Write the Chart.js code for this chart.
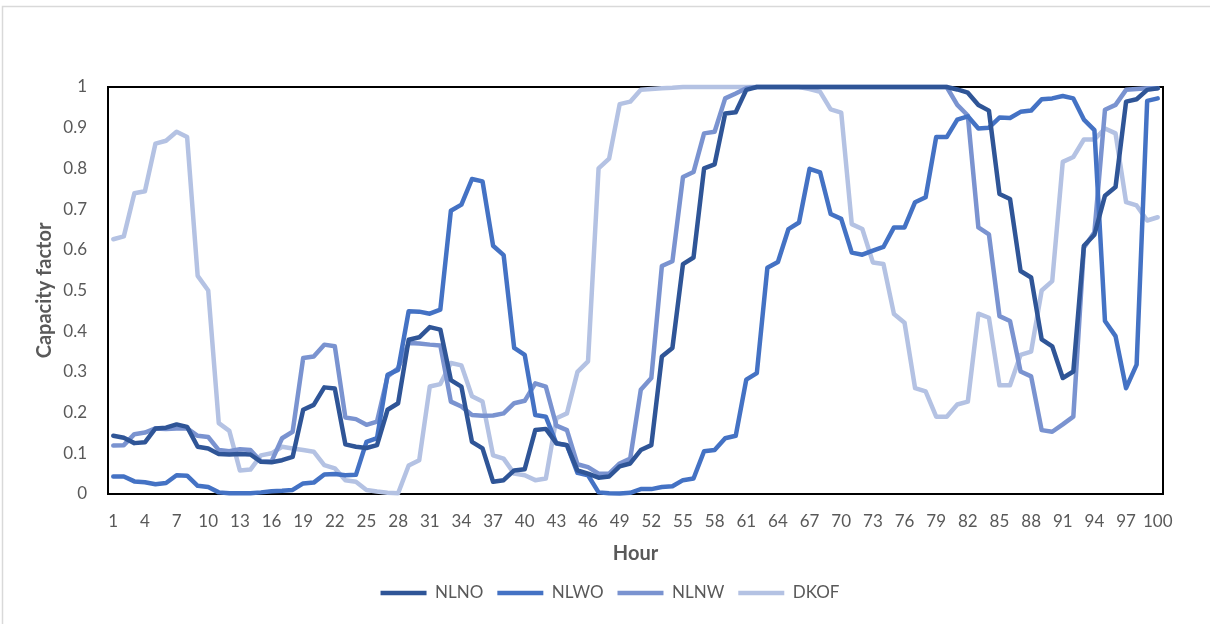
<!DOCTYPE html>
<html>
<head>
<meta charset="utf-8">
<script src="https://cdn.jsdelivr.net/npm/chart.js@4/dist/chart.umd.min.js"></script>
<style>
  html, body { margin: 0; padding: 0; background: #ffffff; }
  #wrap { position: relative; width: 1210px; height: 624px; }
</style>
</head>
<body>
<div id="wrap"><canvas id="c" width="1210" height="624"></canvas></div>
<script>
const hours = Array.from({length: 100}, (_, i) => String(i + 1));

const NLNO = [
  0.143, 0.138, 0.125, 0.127, 0.161, 0.163, 0.171, 0.165, 0.116, 0.112,
  0.098, 0.097, 0.098, 0.097, 0.079, 0.078, 0.083, 0.091, 0.207, 0.219,
  0.262, 0.259, 0.122, 0.116, 0.113, 0.120, 0.207, 0.223, 0.379, 0.385,
  0.410, 0.404, 0.280, 0.264, 0.128, 0.112, 0.030, 0.034, 0.058, 0.061,
  0.157, 0.160, 0.125, 0.120, 0.058, 0.050, 0.040, 0.043, 0.068, 0.075,
  0.108, 0.120, 0.338, 0.359, 0.565, 0.581, 0.800, 0.810, 0.935, 0.938,
  0.993, 1.000, 1.000, 1.000, 1.000, 1.000, 1.000, 1.000, 1.000, 1.000,
  1.000, 1.000, 1.000, 1.000, 1.000, 1.000, 1.000, 1.000, 1.000, 1.000,
  0.994, 0.986, 0.956, 0.942, 0.737, 0.725, 0.548, 0.532, 0.380, 0.363,
  0.285, 0.301, 0.610, 0.637, 0.733, 0.754, 0.964, 0.970, 0.993, 0.997
];

const NLWO = [
  0.043, 0.043, 0.031, 0.029, 0.024, 0.027, 0.046, 0.045, 0.020, 0.017,
  0.004, 0.002, 0.002, 0.002, 0.004, 0.007, 0.008, 0.010, 0.026, 0.028,
  0.048, 0.049, 0.046, 0.047, 0.128, 0.137, 0.293, 0.305, 0.449, 0.448,
  0.443, 0.453, 0.696, 0.711, 0.774, 0.768, 0.610, 0.587, 0.359, 0.342,
  0.194, 0.190, 0.124, 0.120, 0.052, 0.046, 0.004, 0.002, 0.001, 0.003,
  0.012, 0.012, 0.017, 0.019, 0.034, 0.038, 0.105, 0.108, 0.137, 0.143,
  0.281, 0.297, 0.556, 0.570, 0.651, 0.667, 0.799, 0.790, 0.688, 0.676,
  0.593, 0.588, 0.598, 0.607, 0.655, 0.655, 0.717, 0.729, 0.877, 0.877,
  0.920, 0.928, 0.898, 0.900, 0.925, 0.924, 0.939, 0.942, 0.970, 0.972,
  0.978, 0.972, 0.920, 0.894, 0.425, 0.388, 0.260, 0.318, 0.966, 0.972
];

const NLNW = [
  0.119, 0.120, 0.147, 0.151, 0.161, 0.160, 0.161, 0.161, 0.143, 0.140,
  0.108, 0.105, 0.110, 0.108, 0.080, 0.080, 0.137, 0.153, 0.334, 0.338,
  0.367, 0.363, 0.188, 0.184, 0.170, 0.178, 0.289, 0.309, 0.371, 0.370,
  0.367, 0.365, 0.227, 0.215, 0.194, 0.192, 0.193, 0.198, 0.223, 0.229,
  0.272, 0.264, 0.168, 0.157, 0.073, 0.066, 0.050, 0.050, 0.075, 0.087,
  0.256, 0.285, 0.560, 0.572, 0.779, 0.791, 0.886, 0.890, 0.972, 0.984,
  0.997, 1.000, 1.000, 1.000, 1.000, 1.000, 1.000, 1.000, 1.000, 1.000,
  1.000, 1.000, 1.000, 1.000, 1.000, 1.000, 1.000, 1.000, 1.000, 1.000,
  0.956, 0.930, 0.655, 0.638, 0.437, 0.425, 0.301, 0.289, 0.157, 0.153,
  0.171, 0.190, 0.605, 0.643, 0.944, 0.956, 0.993, 0.995, 0.997, 0.997
];

const DKOF = [
  0.626, 0.633, 0.739, 0.744, 0.861, 0.868, 0.890, 0.877, 0.536, 0.500,
  0.174, 0.155, 0.058, 0.060, 0.095, 0.100, 0.116, 0.112, 0.108, 0.104,
  0.071, 0.063, 0.034, 0.030, 0.010, 0.006, 0.003, 0.002, 0.070, 0.083,
  0.264, 0.270, 0.322, 0.316, 0.240, 0.227, 0.095, 0.087, 0.050, 0.046,
  0.034, 0.038, 0.186, 0.198, 0.300, 0.326, 0.800, 0.824, 0.958, 0.964,
  0.993, 0.995, 0.997, 0.998, 1.000, 1.000, 1.000, 1.000, 1.000, 1.000,
  1.000, 1.000, 1.000, 1.000, 1.000, 1.000, 0.995, 0.988, 0.945, 0.937,
  0.663, 0.651, 0.569, 0.565, 0.442, 0.421, 0.260, 0.252, 0.190, 0.190,
  0.220, 0.227, 0.443, 0.433, 0.267, 0.267, 0.342, 0.350, 0.500, 0.523,
  0.816, 0.828, 0.871, 0.871, 0.898, 0.886, 0.717, 0.709, 0.672, 0.680
];

const seriesNames = ['NLNO', 'NLWO', 'NLNW', 'DKOF'];
const seriesColors = ['#2F5597', '#4472C4', '#7A93D0', '#B4C2E3'];
const seriesData = [NLNO, NLWO, NLNW, DKOF];

const TXT = '#595959';
const FONT = 'Lato, "Open Sans", sans-serif';

const frame = {
  id: 'frame',
  afterLayout(chart) {
    if (chart.legend) { chart.legend.left = 57; }
  },
  beforeDraw(chart) {
    const ctx = chart.ctx;
    ctx.save();
    ctx.fillStyle = '#ffffff';
    ctx.fillRect(0, 0, chart.width, chart.height);
    ctx.strokeStyle = '#D9D9D9';
    ctx.lineWidth = 1.5;
    ctx.beginPath();
    ctx.moveTo(2.5, chart.height);
    ctx.lineTo(2.5, 6.5);
    ctx.lineTo(chart.width, 6.5);
    ctx.stroke();
    ctx.restore();
  },
  beforeDatasetsDraw(chart) {
    const a = chart.chartArea;
    const ctx = chart.ctx;
    ctx.save();
    ctx.strokeStyle = '#000000';
    ctx.lineWidth = 2;
    ctx.strokeRect(a.left, a.top, a.right - a.left, a.bottom - a.top);
    ctx.restore();
  }
};

new Chart(document.getElementById('c'), {
  type: 'line',
  data: {
    labels: hours,
    datasets: seriesNames.map((n, i) => ({
      label: n,
      data: seriesData[i],
      borderColor: seriesColors[i],
      backgroundColor: seriesColors[i],
      borderWidth: 4.5,
      pointRadius: 0,
      pointHoverRadius: 0,
      tension: 0,
      clip: false,
      borderJoinStyle: 'round',
      borderCapStyle: 'round'
    }))
  },
  options: {
    responsive: false,
    animation: false,
    devicePixelRatio: 1,
    layout: { padding: { left: 0, right: 47, top: 87, bottom: 12.5 } },
    plugins: {
      tooltip: { enabled: false },
      legend: {
        position: 'bottom',
        labels: {
          usePointStyle: true,
          pointStyle: 'line',
          pointStyleWidth: 46,
          boxHeight: 5,
          padding: 14,
          color: TXT,
          font: { family: FONT, size: 17 }
        }
      }
    },
    scales: {
      x: {
        type: 'category',
        offset: true,
        grid: { display: false, drawTicks: false },
        border: { display: false },
        ticks: {
          autoSkip: false,
          maxRotation: 0,
          minRotation: 0,
          padding: 17,
          color: TXT,
          font: { family: FONT, size: 17 },
          callback: function (v, i) { return i % 3 === 0 ? hours[i] : ''; }
        },
        title: {
          display: true,
          text: 'Hour',
          color: TXT,
          font: { family: FONT, size: 20, weight: 'bold' },
          padding: { top: 0, bottom: 4.5 }
        },
        afterFit: function (s) { s.height = 76.5; }
      },
      y: {
        min: 0,
        max: 1,
        grid: { display: false, drawTicks: false },
        border: { display: false },
        ticks: {
          stepSize: 0.1,
          padding: 21,
          color: TXT,
          font: { family: FONT, size: 17 },
          callback: function (v) { return String(Number(v.toFixed(1))); }
        },
        title: {
          display: true,
          text: 'Capacity factor',
          color: TXT,
          font: { family: FONT, size: 20, weight: 'bold' },
          padding: { top: 33, bottom: 0 }
        },
        afterFit: function (s) { s.width = 108; }
      }
    }
  },
  plugins: [frame]
});
</script>
</body>
</html>
